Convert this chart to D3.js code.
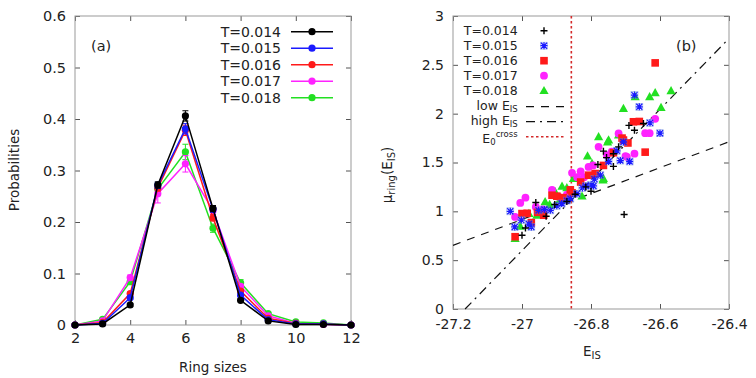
<!DOCTYPE html>
<html>
<head>
<meta charset="utf-8">
<script src="https://cdn.jsdelivr.net/npm/d3@7/dist/d3.min.js"></script>
<style>
  html, body { margin: 0; padding: 0; background: #fff; }
  svg { display: block; }
  text { font-family: "DejaVu Sans", sans-serif; fill: #222; }
</style>
</head>
<body>
<svg id="chart" width="756" height="378"></svg>
<script>
// ---------------- data: panel (a) ----------------
const ringSizes = [2, 3, 4, 5, 6, 7, 8, 9, 10, 11, 12];
const temps = ["T=0.014", "T=0.015", "T=0.016", "T=0.017", "T=0.018"];
const colors = ["#000000", "#1a1aff", "#ff1a1a", "#ff22ff", "#22e022"];
const probT014 = [0, 0.002, 0.039, 0.272, 0.406, 0.226, 0.048, 0.008, 0.001, 0.001, 0];
const probT015 = [0, 0.003, 0.053, 0.271, 0.381, 0.225, 0.058, 0.010, 0.002, 0.002, 0];
const probT016 = [0, 0.005, 0.061, 0.266, 0.378, 0.208, 0.066, 0.013, 0.003, 0.002, 0];
const probT017 = [0, 0.008, 0.092, 0.255, 0.313, 0.222, 0.075, 0.018, 0.003, 0.001, 0];
const probT018 = [0, 0.011, 0.084, 0.264, 0.336, 0.188, 0.082, 0.022, 0.006, 0.004, 0];
const errT014 = [0, 0, 0.003, 0.006, 0.010, 0.006, 0.003, 0.002, 0, 0, 0];
const errT015 = [0, 0, 0.003, 0.006, 0.010, 0.006, 0.003, 0.002, 0, 0, 0];
const errT016 = [0, 0, 0.003, 0.006, 0.010, 0.006, 0.003, 0.002, 0, 0, 0];
const errT017 = [0, 0, 0.005, 0.018, 0.016, 0.008, 0.004, 0.002, 0, 0, 0];
const errT018 = [0, 0, 0.005, 0.012, 0.015, 0.008, 0.006, 0.002, 0, 0, 0];
const xTicksA = [2, 4, 6, 8, 10, 12];
const yTicksA = [0, 0.1, 0.2, 0.3, 0.4, 0.5, 0.6];

// ---------------- data: panel (b) ----------------
const eT014  = [-27.00, -26.99, -26.96, -26.93, -26.87, -26.846, -26.80, -26.78, -26.764, -26.735, -26.735, -26.69, -26.674, -26.648, -26.704, -26.815, -26.905, -26.755, -26.72];
const muT014 = [0.755, 0.83, 1.09, 0.95, 1.10, 1.175, 1.205, 1.48, 1.616, 1.46, 1.59, 1.88, 1.83, 1.90, 0.967, 1.25, 1.07, 1.55, 1.66];
const eT015  = [-27.034, -27.021, -27.002, -26.973, -26.952, -26.918, -26.899, -26.87, -26.841, -26.825, -26.80, -26.793, -26.773, -26.749, -26.725, -26.706, -26.688, -26.674, -26.66, -26.629, -26.60, -26.935, -26.86, -26.98, -26.885, -26.815, -26.79, -26.715];
const muT015 = [1.00, 0.84, 0.91, 0.84, 1.01, 1.01, 1.056, 1.11, 1.18, 1.24, 1.27, 1.26, 1.37, 1.51, 1.62, 1.71, 1.51, 2.19, 2.07, 1.906, 1.80, 1.02, 1.13, 0.87, 1.08, 1.26, 1.33, 1.52];
const eT016  = [-27.02, -27.00, -26.973, -26.937, -26.913, -26.899, -26.88, -26.855, -26.83, -26.807, -26.788, -26.764, -26.735, -26.706, -26.677, -26.66, -26.643, -26.614, -26.985, -26.955, -26.86, -26.693, -26.71];
const muT016 = [0.74, 0.977, 0.885, 0.96, 1.165, 1.155, 1.14, 1.19, 1.30, 1.37, 1.387, 1.47, 1.60, 1.73, 1.917, 1.92, 1.606, 2.52, 0.98, 0.99, 1.22, 1.70, 1.75];
const eT017  = [-27.02, -27.005, -26.99, -26.96, -26.913, -26.894, -26.87, -26.855, -26.84, -26.82, -26.807, -26.778, -26.754, -26.72, -26.696, -26.674, -26.643, -26.63, -26.614, -26.74, -26.94, -26.70, -26.794, -26.83];
const muT017 = [0.943, 1.086, 1.14, 1.045, 1.22, 1.15, 1.17, 1.394, 1.35, 1.35, 1.455, 1.66, 1.575, 1.797, 1.558, 1.59, 1.80, 1.80, 1.947, 1.61, 1.02, 1.566, 1.47, 1.41];
const eT018  = [-27.02, -27.005, -26.98, -26.957, -26.933, -26.904, -26.884, -26.826, -26.797, -26.778, -26.764, -26.749, -26.72, -26.706, -26.672, -26.63, -26.614, -26.597, -26.568, -26.851, -26.87, -26.81, -26.752, -26.92, -26.89, -26.765];
const muT018 = [0.72, 0.847, 0.977, 0.96, 1.097, 1.20, 1.257, 1.155, 1.49, 1.763, 1.336, 1.73, 1.78, 2.053, 2.173, 2.173, 2.214, 2.063, 2.234, 1.336, 1.24, 1.566, 1.71, 1.07, 1.12, 1.32];
const lowFit  = { e: [-27.2, -26.4], mu: [0.652, 1.712] };
const highFit = { e: [-27.165, -26.4], mu: [0, 2.77] };
const eCross = -26.857;
const xTicksB = [-27.2, -27, -26.8, -26.6, -26.4];
const yTicksB = [0, 0.5, 1, 1.5, 2, 2.5, 3];

const svg = d3.select("#chart");

// ================= Panel (a) =================
const xA = d3.scaleLinear().domain([2, 12]).range([75, 351]);
const yA = d3.scaleLinear().domain([0, 0.6]).range([325, 16]);
const gA = svg.append("g");

function frame(g, x, y, xt, yt, xfmt, yfmt, fs, xpad) {
  const x0 = x.range()[0], x1 = x.range()[1], y0 = y.range()[0], y1 = y.range()[1];
  const b = g.append("g").attr("transform", `translate(0,${y0})`)
    .call(d3.axisBottom(x).tickValues(xt).tickSize(-5).tickPadding(xpad).tickFormat(xfmt));
  const l = g.append("g").attr("transform", `translate(${x0},0)`)
    .call(d3.axisLeft(y).tickValues(yt).tickSize(-5).tickPadding(9).tickFormat(yfmt));
  const t = g.append("g").attr("transform", `translate(0,${y1})`)
    .call(d3.axisTop(x).tickValues(xt).tickSize(-5).tickFormat(""));
  const r = g.append("g").attr("transform", `translate(${x1},0)`)
    .call(d3.axisRight(y).tickValues(yt).tickSize(-5).tickFormat(""));
  [b, l, t, r].forEach(a => {
    a.select(".domain").remove();
    a.selectAll(".tick line").attr("stroke", "#555").attr("stroke-width", 1);
    a.selectAll("text").attr("font-family", "DejaVu Sans, sans-serif")
      .attr("font-size", fs).attr("fill", "#222");
  });
  g.append("rect").attr("x", x0).attr("y", y1).attr("width", x1 - x0).attr("height", y0 - y1)
    .attr("fill", "none").attr("stroke", "#999").attr("stroke-width", 1);
}
frame(gA, xA, yA, xTicksA, yTicksA, d => String(d), d => d === 0 ? "0" : d3.format(".1f")(d), 14.5, 8);

const seriesA = [probT014, probT015, probT016, probT017, probT018];
const errsA = [errT014, errT015, errT016, errT017, errT018];
const lineA = d3.line().x((d, i) => xA(ringSizes[i])).y(d => yA(d));
// draw in reverse order so black is on top
[4, 3, 2, 1, 0].forEach(si => {
  const vals = seriesA[si], errs = errsA[si], c = colors[si];
  const g = gA.append("g");
  vals.forEach((v, i) => {
    if (errs[i] > 0) {
      const x = xA(ringSizes[i]);
      g.append("line").attr("x1", x).attr("x2", x).attr("y1", yA(v - errs[i])).attr("y2", yA(v + errs[i]))
        .attr("stroke", c).attr("stroke-width", 1);
      [v - errs[i], v + errs[i]].forEach(e => g.append("line")
        .attr("x1", x - 3).attr("x2", x + 3).attr("y1", yA(e)).attr("y2", yA(e))
        .attr("stroke", c).attr("stroke-width", 1));
    }
  });
  g.append("path").datum(vals).attr("d", lineA).attr("fill", "none")
    .attr("stroke", c).attr("stroke-width", 1.5);
  g.selectAll("circle").data(vals).enter().append("circle")
    .attr("cx", (d, i) => xA(ringSizes[i])).attr("cy", d => yA(d)).attr("r", 3.6).attr("fill", c);
});

// legend (a)
temps.forEach((t, i) => {
  const yy = 31.7 + i * 16.5;
  gA.append("text").attr("x", 281).attr("y", yy + 5).attr("text-anchor", "end")
    .attr("font-size", 14).text(t);
  gA.append("line").attr("x1", 291).attr("x2", 333).attr("y1", yy).attr("y2", yy)
    .attr("stroke", colors[i]).attr("stroke-width", 1.5);
  gA.append("circle").attr("cx", 312).attr("cy", yy).attr("r", 3.6).attr("fill", colors[i]);
});
gA.append("text").attr("x", 91).attr("y", 51).attr("font-size", 14.5).text("(a)");
gA.append("text").attr("x", 213).attr("y", 372).attr("text-anchor", "middle").attr("font-size", 13.5).text("Ring sizes");
gA.append("text").attr("transform", "translate(19,170) rotate(-90)").attr("text-anchor", "middle")
  .attr("font-size", 13.5).text("Probabilities");

// ================= Panel (b) =================
const xB = d3.scaleLinear().domain([-27.2, -26.4]).range([453, 729]);
const yB = d3.scaleLinear().domain([0, 3]).range([309, 16]);
const gB = svg.append("g");
frame(gB, xB, yB, xTicksB, yTicksB, d => String(+d.toFixed(1)), d => String(d), 14, 10);

gB.append("clipPath").attr("id", "clipB").append("rect")
  .attr("x", 453).attr("y", 16).attr("width", 276).attr("height", 293);

// fit lines
const lineB = d3.line().x(d => xB(d[0])).y(d => yB(d[1]));
gB.append("path").datum(lowFit.e.map((e, i) => [e, lowFit.mu[i]])).attr("d", lineB)
  .attr("fill", "none").attr("stroke", "#111").attr("stroke-width", 1.2).attr("stroke-dasharray", "8,7");
gB.append("path").datum(highFit.e.map((e, i) => [e, highFit.mu[i]])).attr("d", lineB)
  .attr("fill", "none").attr("stroke", "#111").attr("stroke-width", 1.2).attr("stroke-dasharray", "9,5,2,5");
gB.append("line").attr("x1", xB(eCross)).attr("x2", xB(eCross)).attr("y1", yB(3)).attr("y2", yB(0))
  .attr("stroke", "#d42a2a").attr("stroke-width", 1.6).attr("stroke-dasharray", "2.5,2.5");

// symbols
function drawSym(g, kind, x, y, c) {
  if (kind === 0) {
    g.append("path").attr("d", `M${x - 3.5},${y}H${x + 3.5}M${x},${y - 3.5}V${y + 3.5}`)
      .attr("stroke", c).attr("stroke-width", 1.4);
  } else if (kind === 1) {
    g.append("rect").attr("x", x - 3.5).attr("y", y - 3.5).attr("width", 7).attr("height", 7)
      .attr("fill", "none").attr("stroke", "#6a8ad8").attr("stroke-width", 0.6).attr("opacity", 0.7);
    g.append("path").attr("d", `M${x - 3.5},${y}H${x + 3.5}M${x},${y - 3.5}V${y + 3.5}M${x - 3},${y - 3}L${x + 3},${y + 3}M${x - 3},${y + 3}L${x + 3},${y - 3}`)
      .attr("stroke", c).attr("stroke-width", 1.3);
  } else if (kind === 2) {
    g.append("rect").attr("x", x - 3.8).attr("y", y - 3.8).attr("width", 7.6).attr("height", 7.6).attr("fill", c);
  } else if (kind === 3) {
    g.append("circle").attr("cx", x).attr("cy", y).attr("r", 3.9).attr("fill", c);
  } else {
    g.append("path").attr("d", `M${x},${y - 4.8}L${x + 4.6},${y + 3.4}L${x - 4.6},${y + 3.4}Z`).attr("fill", c);
  }
}
const seriesB = [[eT014, muT014], [eT015, muT015], [eT016, muT016], [eT017, muT017], [eT018, muT018]];
const gPts = gB.append("g").attr("clip-path", "url(#clipB)");
[4, 3, 2, 1, 0].forEach(si => {
  const [es, ms] = seriesB[si];
  es.forEach((e, i) => drawSym(gPts, si, xB(e), yB(ms[i]), colors[si]));
});

// legend (b)
const legX = 517.7, symX = 544, legY0 = 30.7, legDy = 15;
temps.forEach((t, i) => {
  const yy = legY0 + i * legDy;
  gB.append("text").attr("x", legX).attr("y", yy + 4.5).attr("text-anchor", "end").attr("font-size", 12.5).text(t);
  drawSym(gB, i, symX, yy, colors[i]);
});
function subLabel(row, main, sub) {
  const yy = legY0 + row * legDy;
  const tx = gB.append("text").attr("x", legX).attr("y", yy + 4).attr("text-anchor", "end").attr("font-size", 12.5);
  tx.append("tspan").text(main);
  tx.append("tspan").attr("dy", 2.5).attr("font-size", 8.5).text(sub);
  return yy;
}
let yy = subLabel(5, "low E", "IS");
gB.append("line").attr("x1", 526).attr("x2", 564).attr("y1", yy + 1).attr("y2", yy + 1)
  .attr("stroke", "#111").attr("stroke-width", 1.2).attr("stroke-dasharray", "8,7");
yy = subLabel(6, "high E", "IS");
gB.append("line").attr("x1", 526).attr("x2", 564).attr("y1", yy + 1).attr("y2", yy + 1)
  .attr("stroke", "#111").attr("stroke-width", 1.2).attr("stroke-dasharray", "9,5,2,5");
yy = legY0 + 7 * legDy;
const tc = gB.append("text").attr("x", legX).attr("y", yy + 7).attr("text-anchor", "end").attr("font-size", 12.5);
tc.append("tspan").text("E");
tc.append("tspan").attr("dy", 2).attr("font-size", 8.5).text("0");
tc.append("tspan").attr("dy", -7.5).attr("font-size", 8.5).text("cross");
gB.append("line").attr("x1", 526).attr("x2", 564).attr("y1", yy + 1).attr("y2", yy + 1)
  .attr("stroke", "#d42a2a").attr("stroke-width", 1.6).attr("stroke-dasharray", "2.5,2.5");

gB.append("text").attr("x", 676).attr("y", 51).attr("font-size", 14.5).text("(b)");
const xl = gB.append("text").attr("x", 583).attr("y", 356).attr("font-size", 13.5);
xl.append("tspan").text("E");
xl.append("tspan").attr("dy", 3).attr("font-size", 10).text("IS");
const yl = gB.append("text").attr("transform", "translate(392,175) rotate(-90)").attr("text-anchor", "middle").attr("font-size", 13.5);
yl.append("tspan").text("μ");
yl.append("tspan").attr("dy", 3).attr("font-size", 10).text("ring");
yl.append("tspan").attr("dy", -3).text("(E");
yl.append("tspan").attr("dy", 3).attr("font-size", 10).text("IS");
yl.append("tspan").attr("dy", -3).text(")");
</script>
</body>
</html>
